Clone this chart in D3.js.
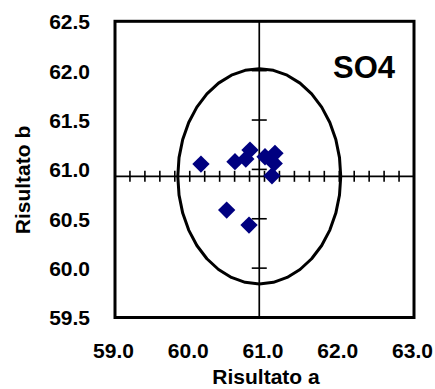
<!DOCTYPE html>
<html>
<head>
<meta charset="utf-8">
<script src="https://cdn.jsdelivr.net/npm/d3@7"></script>
<style>
  html, body { margin: 0; padding: 0; background: #fff; }
  svg text { font-family: "Liberation Sans", Arial, sans-serif; font-weight: bold; fill: #000; }
</style>
</head>
<body>
<svg id="chart" width="435" height="389"></svg>
<script>
// Results of each laboratory: result a vs result b (SO4)
const resultA = [60.15, 60.605, 60.75, 60.806, 61.007, 61.14, 61.13, 61.10, 60.494, 60.793];
const resultB = [61.054, 61.078, 61.105, 61.196, 61.128, 61.163, 61.061, 60.935, 60.588, 60.436];

// Reference point where the axes cross, and radius of the acceptance circle
const center = [60.93, 60.93];
const radius = [1.09];

// Tick labels
const xTickLabels = [59.0, 60.0, 61.0, 62.0, 63.0];
const yTickLabels = [59.5, 60.0, 60.5, 61.0, 61.5, 62.0, 62.5];
const xMinorTicks = d3.range(0, 21).map(i => 59 + i * 0.2);
const yMinorTicks = [59.5, 60.0, 60.5, 61.0, 61.5, 62.0, 62.5];

const svg = d3.select("#chart");
const x = d3.scaleLinear().domain([59, 63]).range([115, 414]);
const y = d3.scaleLinear().domain([59.5, 62.5]).range([317.5, 21.3]);

// Crossing axes through the reference point
svg.append("line")
  .attr("x1", x(59)).attr("x2", x(63))
  .attr("y1", y(center[1])).attr("y2", y(center[1]))
  .attr("stroke", "#000").attr("stroke-width", 1.7);
svg.append("line")
  .attr("x1", x(center[0])).attr("x2", x(center[0]))
  .attr("y1", y(62.5)).attr("y2", y(59.5))
  .attr("stroke", "#000").attr("stroke-width", 1.7);

// Ticks across the horizontal axis
svg.append("g").selectAll("line").data(xMinorTicks).join("line")
  .attr("x1", d => x(d)).attr("x2", d => x(d))
  .attr("y1", y(center[1]) - 5.5).attr("y2", y(center[1]) + 5.5)
  .attr("stroke", "#000").attr("stroke-width", 1.6);

// Ticks across the vertical axis
svg.append("g").selectAll("line").data(yMinorTicks).join("line")
  .attr("x1", x(center[0]) - 7.5).attr("x2", x(center[0]) + 7.5)
  .attr("y1", d => y(d)).attr("y2", d => y(d))
  .attr("stroke", "#000").attr("stroke-width", 1.6);

// Acceptance circle around the reference point
const angles = d3.range(0, 361, 10).map(a => a * Math.PI / 180);
const ring = angles.map(t => [center[0] + radius[0] * Math.cos(t), center[1] + radius[0] * Math.sin(t)]);
svg.append("path")
  .attr("d", d3.line().x(d => x(d[0])).y(d => y(d[1])).curve(d3.curveLinear)(ring))
  .attr("fill", "none").attr("stroke", "#000").attr("stroke-width", 3)
  .attr("stroke-linejoin", "round");

// Plot frame
svg.append("rect")
  .attr("x", x(59)).attr("y", y(62.5))
  .attr("width", x(63) - x(59)).attr("height", y(59.5) - y(62.5))
  .attr("fill", "none").attr("stroke", "#000").attr("stroke-width", 3);

// Laboratory points as navy diamonds
const diamond = d3.symbol().type(d3.symbolSquare).size(150);
svg.append("g").selectAll("path").data(resultA.map((a, i) => [a, resultB[i]])).join("path")
  .attr("d", diamond)
  .attr("transform", d => `translate(${x(d[0])},${y(d[1])}) rotate(45)`)
  .attr("fill", "#000080");

// Axis labels
const xAxis = d3.axisBottom(x).tickValues(xTickLabels).tickFormat(d3.format(".1f")).tickSize(0).tickPadding(0);
const gx = svg.append("g").attr("transform", "translate(-2,351)").call(xAxis);
gx.select(".domain").remove();
gx.selectAll("text").attr("font-size", 21).attr("dy", 0).attr("y", 6.5)
  .style("font-family", '"Liberation Sans", Arial, sans-serif').style("font-weight", "bold");

const yAxis = d3.axisLeft(y).tickValues(yTickLabels).tickFormat(d3.format(".1f")).tickSize(0).tickPadding(0);
const gy = svg.append("g").attr("transform", "translate(90,0)").call(yAxis);
gy.select(".domain").remove();
gy.selectAll("text").attr("font-size", 21).attr("x", 0).attr("dy", "0.35em")
  .style("font-family", '"Liberation Sans", Arial, sans-serif').style("font-weight", "bold");

// Axis titles
svg.append("text").attr("x", 266).attr("y", 384).attr("text-anchor", "middle")
  .attr("font-size", 21).text("Risultato a");
svg.append("text").attr("transform", "translate(30,180) rotate(-90)").attr("text-anchor", "middle")
  .attr("font-size", 21).text("Risultato b");

// Analyte label
svg.append("text").attr("x", 395).attr("y", 78).attr("text-anchor", "end")
  .attr("font-size", 31).text("SO4");
</script>
</body>
</html>
